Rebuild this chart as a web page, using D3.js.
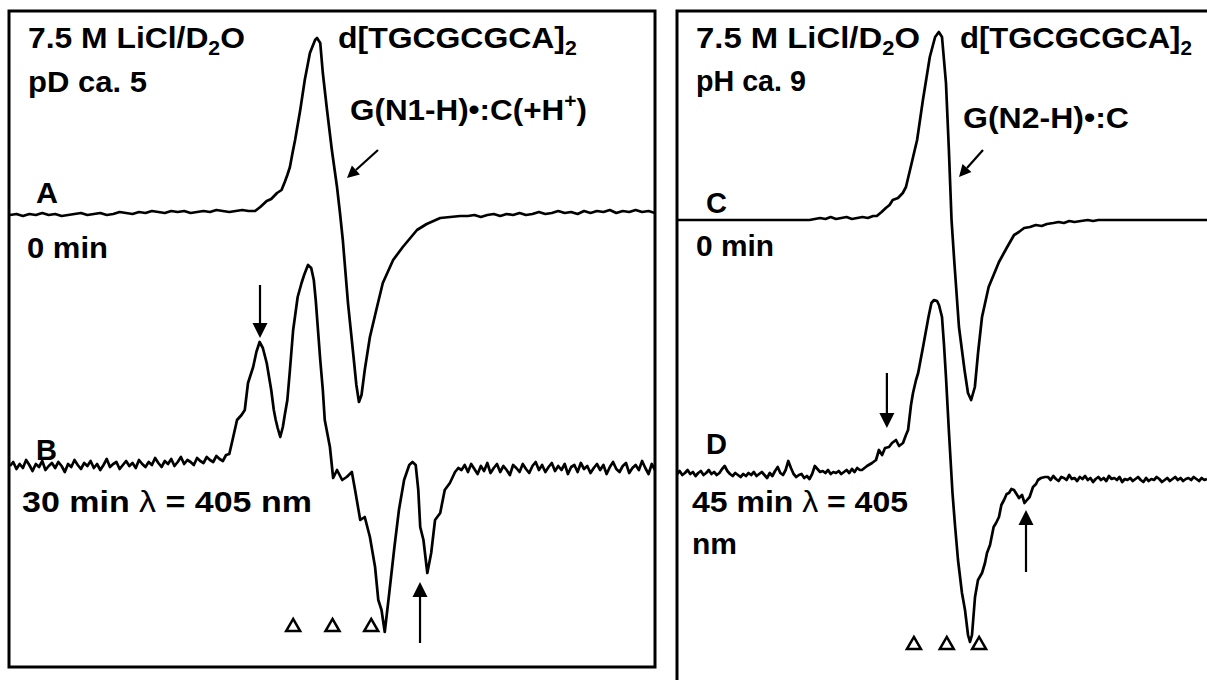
<!DOCTYPE html>
<html>
<head>
<meta charset="utf-8">
<script src="https://cdn.jsdelivr.net/npm/d3@7"></script>
<style>
  html, body { margin: 0; padding: 0; background: #fff; }
  svg { display: block; }
  text { font-family: "Liberation Sans", Arial, sans-serif; font-weight: bold; fill: #000; }
</style>
</head>
<body>
<svg id="chart" width="1207" height="680"></svg>
<script>
// field offset in gauss (panel centre = 0), amplitude in arbitrary units

// A : pD 5, 0 min
const aLeft = [-1, -0.5, -1.5, -0.5, -1, 0, -1, -0.5, -1.5, -1,
  -0.5, 0, -1, -0.5, 0, -1, -0.5, 0.5, 0, -0.5,
  0.5, 0, 1, 0.5, 0, 1, 0.5, 1, 0, 0.5,
  1, 0.5, 1.5, 1, 0.5, 1, 1.5, 1];            // -50 .. -13 G, 1 G step
const aPeak = [[-12, 1], [-11.2, 3], [-10.2, 6], [-9.5, 7], [-8.6, 10], [-7.9, 11.5], [-7.4, 15.5], [-7, 19],
  [-6.6, 23], [-6.2, 30], [-5.8, 36.5], [-5.4, 44], [-5, 51.5], [-4.3, 66.5], [-3.5, 80], [-2.7, 86.5],
  [-2.4, 87.5], [-1.9, 85], [-1.5, 70], [-0.85, 51.5], [-0.1, 31.5], [0.7, 13], [1.16, 0], [1.6, -13.5],
  [2.4, -45], [3.2, -70], [3.7, -86], [4.1, -94.5], [4.5, -91], [5, -78.5], [5.8, -62], [6.9, -47],
  [7.8, -35], [9.4, -23.5], [10.9, -17], [13.1, -8.5], [14.6, -5.5], [16.7, -2.5], [19.8, -1.5]];
const aRight = [-1.5, -1, -2, -1, -0.5, -1.5, -0.5, -1, 0, -1,
  -0.5, 0.5, -0.5, 0, 1, 0, 0.5, -0.5, 1, 0,
  1, 0.5, 1.5, 0, 1, 0.5, 1.5, 0.5, 1, 0];    // 21 .. 50 G, 1 G step

// B : pD 5, 30 min 405 nm
const bLeft = [2, 4, 0.5, 3, 1, 5, 2.5, -0.5, 3, 1.5,
  4.5, 0, 2, 3.5, 1, 4, 2, -1, 3, 1.5,
  5, 2.5, 0.5, 3.5, 2, 4.5, 1, 3, 0, 2.5,
  5.5, 1.5, 3, 4, 0.5, 2.5, 4.5, 2, 3.5, 1,
  5, 3, 1.5, 4, 2.5, 6, 3.5, 1.5, 4.5, 3,
  5.5, 2, 4, 6.5, 3, 5, 4, 2.5, 6, 4.5,
  3.5, 6.5, 5, 4, 7, 5.5, 4.5, 7.5, 8];        // -50 .. -16 G, 0.5 G step
const bPeak = [[-15.5, 15], [-14.8, 25], [-14.1, 27.5], [-13.6, 30], [-13.1, 43.5], [-12.7, 47.5], [-12.3, 51.5],
  [-11.8, 59], [-11.3, 64], [-10.8, 61], [-10.2, 53.5], [-9.5, 40], [-9.1, 30], [-8.8, 25], [-8.5, 21],
  [-8.1, 16.5], [-7.7, 21.5], [-7.4, 27.5], [-7, 35], [-6.6, 50], [-6.1, 70], [-5.4, 86.5], [-4.8, 93.5],
  [-4.4, 97.5], [-3.8, 102.5], [-3.3, 101], [-2.9, 95], [-2.6, 85], [-1.9, 55], [-1.5, 40], [-1.2, 25],
  [-0.4, 11.5], [0.1, -4], [0.7, 0], [1.5, -5], [2.2, -3.5], [3, -1], [3.5, -10], [4.3, -25], [5, -23.5],
  [5.8, -33.5], [6.6, -48.5], [7.1, -65], [7.6, -70], [8.1, -81], [8.8, -61.5], [9.6, -38.5], [10.3, -20],
  [11.1, -5], [11.9, 2.5], [12.4, 4], [12.9, 2.5], [13.3, -10], [13.6, -28.5], [14.1, -35], [14.7, -51.5],
  [15.3, -41.5], [15.9, -25], [16.7, -21.5], [17.4, -10], [18.2, -6.5], [19, -1], [19.5, 1]];
const bRight = [0, 2.5, -1, 3, 0.5, -2, 2, -0.5, 3.5, -1.5,
  1, 3, -1, 2, 0, -2.5, 2.5, 1, -1, 3,
  0.5, -1.5, 2, 4, 0, 2.5, -1, 1.5, 3.5, -0.5,
  2, 0, 3, -2, 1.5, 2.5, -1, 3.5, 0.5, 2,
  -1.5, 1, 3, 0, 2.5, -2, 1.5, 4, 0.5, -1,
  2, 3.5, -1.5, 1, 2.5, 0, 4.5, 1, -2, 3,
  0];                                            // 20 .. 50 G, 0.5 G step

// C : pH 9, 0 min
const cTrace = [[-50, 0], [-25, 0], [-24, 0.5], [-23, 1], [-22, 0.5], [-21, 1.5], [-20, 0.5], [-19, 1],
  [-18, 1.5], [-17, 0.5], [-16, 1], [-15, 1.5], [-14, 1], [-13, 2], [-12.3, 2], [-11.4, 4], [-10.6, 6],
  [-9.9, 7.5], [-9.3, 10], [-8.3, 11], [-7.4, 13.5], [-6.8, 16.5], [-5.9, 26.5], [-4.7, 40], [-3.6, 60],
  [-2.3, 81.5], [-1.3, 91.5], [-0.6, 94], [0, 91.5], [0.75, 68.5], [1.3, 35], [1.8, 0], [2.3, -20],
  [3.2, -53.5], [4.25, -75], [4.9, -86.5], [5.5, -90], [6.2, -83.5], [6.8, -66.5], [7.55, -48.5],
  [8.8, -33.5], [10.75, -21], [12.3, -13.5], [13.6, -7.5], [14.5, -6], [15.5, -4], [16.6, -3.5],
  [17.7, -2.5], [18.8, -3], [19.8, -2], [21, -1.5], [22, -1], [23, -1.5], [24, -0.5], [25, -1],
  [26.2, -0.5], [27.5, 0], [28.5, -0.5], [29.5, 0], [31.3, 0], [50, 0]];

// D : pH 9, 45 min 405 nm
const dLeft = [1, 2.5, 0.5, 1.5, 3, 1, 2, 0, 1.5, 2.5,
  0.5, 1.5, 3, 1, 2, 0.5, 1.5, 3.5, 5, 2.5,
  1, 0, 1.5, 0.5, -0.5, 1, 0, 1.5, 0.5, 2,
  0, 1, 2, 0.5, -1, 1.5, 0, 2.5, 4.5, 1.5,
  0.5, 3, 7.5, 4, 1, -0.5, 0.5, 1, -1, 0,
  -1.5, 1, 5, 3.5, 2, 2.5, 1.5, 3, 1, 2,
  1.5, 2.5, 1, 2, 3, 1.5, 3.5, 2, 4, 3];        // -50 .. -15.5 G, 0.5 G step
const dPeak = [[-15.1, 3], [-14.15, 5], [-13.2, 6.5], [-12.45, 8], [-11.9, 13], [-11.3, 10.5], [-10.75, 14],
  [-10, 14.5], [-9.43, 16.5], [-8.68, 18], [-8.1, 15], [-7.36, 16.5], [-6.8, 20.5], [-6.4, 23], [-5.85, 35.5],
  [-5.47, 41.5], [-4.9, 48], [-4.5, 51.5], [-3.58, 64.5], [-2.55, 79.5], [-2, 86.5], [-1.5, 88], [-0.94, 87.5],
  [-0.57, 85.5], [0, 79.5], [0.38, 65.5], [0.75, 49.5], [1.32, 21.5], [1.98, -8.5], [2.45, -24.5], [3.02, -42],
  [3.77, -58.5], [4.34, -67], [4.91, -79.5], [5.28, -83], [5.66, -79.5], [6.23, -60.5], [6.79, -52],
  [7.55, -48.5], [8.11, -43.5], [8.49, -38.5], [9.06, -34.5], [9.74, -25.5], [10.2, -23.5], [10.75, -20.5],
  [11.2, -14.5], [11.7, -12], [12.2, -9], [12.64, -8.5], [13.1, -6.5], [13.58, -7], [14.06, -9], [14.53, -11],
  [15.1, -9.5], [15.57, -13.5], [16.04, -12], [16.53, -10.5], [17.17, -5.5], [17.74, -4], [18.11, -2],
  [18.68, -1], [19.43, -0.5]];
const dRight = [-0.5, -2, 0, -1.5, -2.5, -0.5, -1, -2, 0.5, -1.5,
  -1, -2.5, -0.5, -1.5, 0, -2, -1, -3, -1.5, -0.5,
  -2, -1, -2.5, 0, -1.5, -1, -2, -0.5, -3, -1.5,
  -2, -1, -2.5, -1.5, -0.5, -2, -3, -1, -2.5, -1.5,
  -2, -0.5, -1.5, -3, -2, -1, -2.5, -1.5, -0.5, -2,
  -1, -2.5, -1.5, -1, -2, -0.5, -1.5, -2.5, -1, -2,
  -1.5];                                         // 20 .. 50 G, 0.5 G step

// hyperfine line positions (G) marked with triangles
const hfLeft = [-6.1, 0, 6.0];
const hfRight = [-5.3, 0.9, 7.0];

function onGrid(start, step, vals) {
  return vals.map((v, i) => [start + i * step, v]);
}
const traceA = onGrid(-50, 1, aLeft).concat(aPeak, onGrid(21, 1, aRight));
const traceB = onGrid(-50, 0.5, bLeft).concat(bPeak, onGrid(20, 0.5, bRight));
const traceC = cTrace;
const traceD = onGrid(-50, 0.5, dLeft).concat(dPeak, onGrid(20, 0.5, dRight));

const svg = d3.select('#chart');

const xL = d3.scaleLinear().domain([-50, 50]).range([10, 655]);
const xR = d3.scaleLinear().domain([-50, 50]).range([677, 1207]);
function ampScale(base) {
  return d3.scaleLinear().domain([-100, 100]).range([base + 200, base - 200]);
}
const yA = ampScale(213), yB = ampScale(470), yC = ampScale(220), yD = ampScale(476);

// frames
svg.append('rect').attr('x', 9).attr('y', 11).attr('width', 646).attr('height', 656)
  .attr('fill', 'none').attr('stroke', '#000').attr('stroke-width', 3);
svg.append('path').attr('d', 'M677,680V11H1207')
  .attr('fill', 'none').attr('stroke', '#000').attr('stroke-width', 3);

function drawTrace(data, x, y) {
  const line = d3.line().x(d => x(d[0])).y(d => y(d[1]));
  svg.append('path').datum(data).attr('d', line)
    .attr('fill', 'none').attr('stroke', '#000')
    .attr('stroke-width', 2.7).attr('stroke-linejoin', 'round');
}
drawTrace(traceA, xL, yA);
drawTrace(traceB, xL, yB);
drawTrace(traceC, xR, yC);
drawTrace(traceD, xR, yD);

// labels
function label(x, y, parts, width) {
  const t = svg.append('text').attr('transform', `translate(${x},${y})`).style('font-size', '30px');
  let shift = 0;
  parts.forEach(p => {
    const s = typeof p === 'string' ? [p] : p;
    const ts = t.append('tspan').text(s[0]);
    let want = 0;
    if (s[1] === 'sub') { want = 7; ts.style('font-size', '20px'); }
    if (s[1] === 'sup') { want = -12; ts.style('font-size', '20px'); }
    if (s[1] === 'sym') { ts.style('font-weight', 'normal'); }
    if (want !== shift) ts.attr('dy', want - shift);
    shift = want;
  });
  if (width) {
    const w = t.node().getBBox().width;
    t.attr('transform', `translate(${x},${y}) scale(${width / w},1)`);
  }
}

label(28, 48, ['7.5 M LiCl/D', ['2', 'sub'], 'O'], 217);
label(28, 92, ['pD ca. 5'], 119);
label(338, 48, ['d[TGCGCGCA]', ['2', 'sub']], 239);
label(350, 120, ['G(N1-H)•:C(+H', ['+', 'sup'], ')'], 237);
label(36, 203, ['A'], 22);
label(27, 258, ['0 min'], 81);
label(36, 460, ['B'], 21);
label(22, 512, ['30 min ', ['λ', 'sym'], ' = 405 nm'], 290);

label(696, 48, ['7.5 M LiCl/D', ['2', 'sub'], 'O'], 224);
label(696, 91, ['pH ca. 9'], 110);
label(960, 48, ['d[TGCGCGCA]', ['2', 'sub']], 232);
label(963, 128, ['G(N2-H)•:C'], 166);
label(706, 213, ['C'], 21);
label(696, 256, ['0 min'], 78);
label(706, 454, ['D'], 21);
label(692, 512, ['45 min ', ['λ', 'sym'], ' = 405'], 216);
label(692, 554, ['nm'], 45);

// arrows
function arrow(x1, y1, x2, y2, head, half) {
  const a = Math.atan2(y2 - y1, x2 - x1);
  const bx = x2 - head * Math.cos(a), by = y2 - head * Math.sin(a);
  svg.append('line').attr('x1', x1).attr('y1', y1).attr('x2', bx).attr('y2', by)
    .attr('stroke', '#000').attr('stroke-width', 2.2);
  const px = -Math.sin(a) * half, py = Math.cos(a) * half;
  svg.append('path')
    .attr('d', `M${x2},${y2}L${bx + px},${by + py}L${bx - px},${by - py}Z`)
    .attr('fill', '#000');
}
arrow(378, 150, 347, 178, 12, 6);
arrow(983, 150, 959, 177, 12, 6);
// down arrow over first B line, up arrow under last B line
arrow(xL(-11.24), 285, xL(-11.24), yB(64) - 4, 15, 7.5);
arrow(xL(13.57), 643, xL(13.57), yB(-51.5) + 9, 15, 7.5);
arrow(xR(-10.4), 373, xR(-10.4), yD(14) - 20, 15, 7.5);
arrow(xR(15.85), 572, xR(15.85), yD(-12.5) + 9, 15, 7.5);

// hyperfine markers
const tri = d3.symbol(d3.symbolTriangle, 85)();
hfLeft.forEach(g => svg.append('path').attr('d', tri)
  .attr('transform', `translate(${xL(g)},627)`)
  .attr('fill', '#fff').attr('stroke', '#000').attr('stroke-width', 2.5));
hfRight.forEach(g => svg.append('path').attr('d', tri)
  .attr('transform', `translate(${xR(g)},645)`)
  .attr('fill', '#fff').attr('stroke', '#000').attr('stroke-width', 2.5));
</script>
</body>
</html>
